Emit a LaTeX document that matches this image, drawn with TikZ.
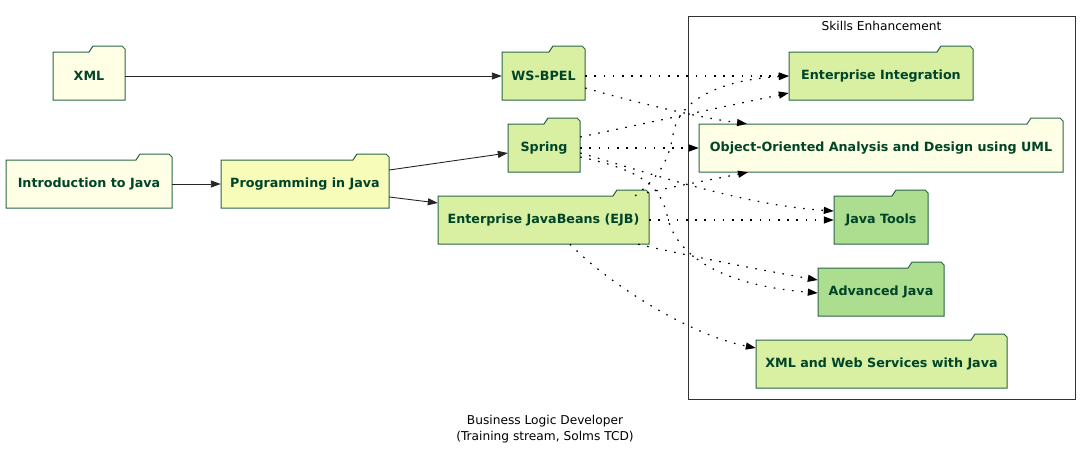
\documentclass[tikz,border=0pt]{standalone}
\usepackage{fontspec}
\setmainfont{DejaVu Sans}
\usetikzlibrary{arrows.meta}
\definecolor{cA}{HTML}{FFFFE5}
\definecolor{cB}{HTML}{F7FCB9}
\definecolor{cC}{HTML}{D9F0A3}
\definecolor{cD}{HTML}{ADDD8E}
\definecolor{cLine}{HTML}{2A6648}
\definecolor{cText}{HTML}{004529}
\tikzset{
  folderbody/.style={draw=cLine, line width=1pt, line join=miter},
  lab/.style={inner sep=0pt, minimum height=48pt, font=\fontsize{12.7}{15}\selectfont\bfseries, text=cText},
  solidedge/.style={draw=black!85, line width=0.9pt, -{Triangle[length=10pt,width=7pt]}},
  dotedge/.style={draw=black, line width=1.2pt, dash pattern=on 1.6pt off 7.6pt, -{Triangle[length=10pt,width=7pt]}},
  clusterbox/.style={draw=black!80, line width=1pt},
  plain/.style={font=\fontsize{12.2}{16}\selectfont, text=black, align=center, inner sep=0pt},
}
\newcommand\folderNode[6]{% name, x, y, w, color, text
  \path[folderbody, fill=#5] ({#2-#4/2},{#3+24}) -- ({#2-#4/2},{#3-24}) -- ({#2+#4/2-36},{#3-24}) -- ({#2+#4/2-32},{#3-30}) -- ({#2+#4/2-3},{#3-30}) -- ({#2+#4/2},{#3-27}) -- ({#2+#4/2},{#3+24}) -- cycle;
  \node[lab, minimum width=#4pt] (#1) at (#2,#3) {#6};
}
\begin{document}
\begin{tikzpicture}[x=1pt,y=-1pt]
\useasboundingbox (0,0) rectangle (1091,455);
% cluster
\draw[clusterbox] (688,16) rectangle (1075,399);
\node[plain] (title) at (881.5,26) {Skills Enhancement};
% nodes
\folderNode{xml}{89}{76}{72}{cA}{XML}
\folderNode{intro}{89}{184}{166}{cA}{Introduction to Java}
\folderNode{prog}{305}{184}{168}{cB}{Programming in Java}
\folderNode{ws}{543.5}{76}{83}{cC}{WS-BPEL}
\folderNode{spring}{544}{148}{72}{cC}{Spring}
\folderNode{ejb}{543.5}{220}{211}{cC}{Enterprise JavaBeans (EJB)}
\folderNode{ei}{881}{76}{184}{cC}{Enterprise Integration}
\folderNode{ooad}{881}{148}{364}{cA}{Object-Oriented Analysis and Design using UML}
\folderNode{jt}{881}{220}{94}{cD}{Java Tools}
\folderNode{aj}{881}{292}{126}{cD}{Advanced Java}
\folderNode{xws}{881.5}{364}{251}{cC}{XML and Web Services with Java}
% caption
\node[plain] (cap) at (545,429) {Business Logic Developer\\(Training stream, Solms TCD)};
% solid edges
\draw[solidedge] (xml.east) -- (ws.west);
\draw[solidedge] (intro.east) -- (prog.west);
\draw[solidedge] ([yshift=14pt]prog.east) -- ([yshift=-5pt]spring.west);
\draw[solidedge] ([yshift=-13pt]prog.east) -- ([yshift=17pt]ejb.west);
% dotted edges
\draw[dotedge] (ws.east) -- (ei.west);
\draw[dotedge] ([yshift=-12pt]ws.east) .. controls (630,101) and (700,118) .. ([xshift=-134pt]ooad.north);
\draw[dotedge] ([yshift=11pt]spring.east) -- ([yshift=-17pt]ei.west);
\draw[dotedge] (spring.east) -- (ooad.west);
\draw[dotedge] ([yshift=-5pt]spring.east) .. controls (640,170) and (740,205) .. ([yshift=9pt]jt.west);
\draw[dotedge] ([yshift=-9pt]spring.east) .. controls (640,170) and (660,185) .. (667,215) .. controls (675,255) and (720,285) .. ([yshift=-1pt]aj.west);
\draw[dotedge] ([xshift=-14pt]ejb.north east) .. controls (655,180) and (668,165) .. (673,135) .. controls (678,100) and (720,80) .. (ei.west);
\draw[dotedge] ([xshift=-2pt,yshift=3pt]ejb.north east) .. controls (680,185) and (720,178) .. ([xshift=-133pt]ooad.south);
\draw[dotedge] (ejb.east) -- (jt.west);
\draw[dotedge] ([xshift=-11pt]ejb.south east) .. controls (670,252) and (760,270) .. ([yshift=12pt]aj.west);
\draw[dotedge] ([xshift=26.5pt]ejb.south) .. controls (610,285) and (690,335) .. ([yshift=16pt]xws.west);
\end{tikzpicture}
\end{document}
